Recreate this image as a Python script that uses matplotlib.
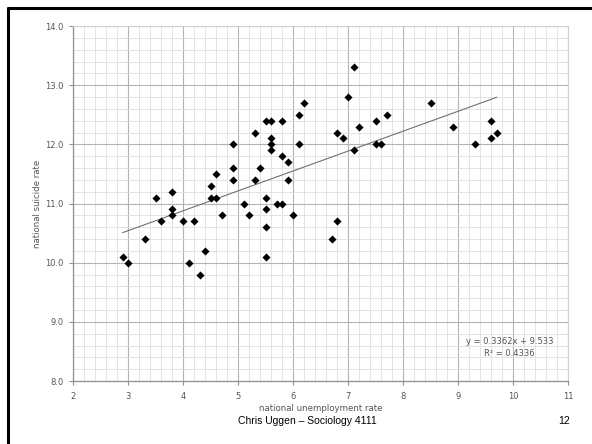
import matplotlib
matplotlib.use("Agg")
import matplotlib.pyplot as plt
from matplotlib.ticker import MultipleLocator
from matplotlib.lines import Line2D

plt.rcParams["font.family"] = ["DejaVu Sans"]

unemployment = [2.9, 3.0, 3.3, 3.5, 3.6, 3.8, 3.8, 3.8, 4.0, 4.1, 4.2, 4.3, 4.4,
                4.5, 4.5, 4.6, 4.6, 4.7, 4.9, 4.9, 4.9, 5.1, 5.2, 5.3, 5.3, 5.4,
                5.5, 5.5, 5.5, 5.5, 5.5, 5.6, 5.6, 5.6, 5.6, 5.7, 5.8, 5.8, 5.8,
                5.9, 5.9, 6.0, 6.1, 6.1, 6.2, 6.7, 6.8, 6.8, 6.9, 7.0, 7.1, 7.1,
                7.2, 7.5, 7.5, 7.6, 7.7, 8.5, 8.9, 9.3, 9.6, 9.6, 9.7]
suicide = [10.1, 10.0, 10.4, 11.1, 10.7, 11.2, 10.9, 10.8, 10.7, 10.0, 10.7, 9.8, 10.2,
           11.3, 11.1, 11.1, 11.5, 10.8, 12.0, 11.6, 11.4, 11.0, 10.8, 12.2, 11.4, 11.6,
           12.4, 11.1, 10.9, 10.6, 10.1, 12.4, 12.1, 12.0, 11.9, 11.0, 12.4, 11.8, 11.0,
           11.7, 11.4, 10.8, 12.5, 12.0, 12.7, 10.4, 10.7, 12.2, 12.1, 12.8, 13.3, 11.9,
           12.3, 12.4, 12.0, 12.0, 12.5, 12.7, 12.3, 12.0, 12.4, 12.1, 12.2]
slope = 0.3362
intercept = 9.533
r_squared = 0.4336
x_ticks = [2, 3, 4, 5, 6, 7, 8, 9, 10, 11]
y_ticks = [8.0, 9.0, 10.0, 11.0, 12.0, 13.0, 14.0]

W, H = 592, 444
fig = plt.figure(figsize=(W / 100, H / 100), dpi=100)
fig.patch.set_facecolor("white")

ax = fig.add_axes([73.3 / W, 1 - 381 / H, (568 - 73.3) / W, (381 - 26) / H])
ax.set_xlim(2, 11)
ax.set_ylim(8, 14)
ax.xaxis.set_minor_locator(MultipleLocator(0.2))
ax.yaxis.set_minor_locator(MultipleLocator(0.2))
ax.grid(which="major", color="#b4b4b4", lw=0.8)
ax.grid(which="minor", color="#dedede", lw=0.6)
ax.set_axisbelow(True)
ax.set_xticks(x_ticks)
ax.set_xticklabels([str(t) for t in x_ticks])
ax.set_yticks(y_ticks)
ax.set_yticklabels([f"{t:.1f}" for t in y_ticks])
ax.tick_params(which="major", length=3, color="#909090", labelsize=6,
               labelcolor="#555555", width=0.8, pad=4)
ax.tick_params(axis="x", pad=5)
ax.tick_params(which="minor", length=0)
for side in ["top", "right"]:
    ax.spines[side].set_color("#d0d0d0")
    ax.spines[side].set_linewidth(0.8)
for side in ["left", "bottom"]:
    ax.spines[side].set_color("#909090")
    ax.spines[side].set_linewidth(0.9)

ax.scatter(unemployment, suicide, marker="D", s=17, color="black", zorder=3, linewidths=0)

x0, x1 = min(unemployment), max(unemployment)
ax.plot([x0, x1], [slope * x0 + intercept, slope * x1 + intercept],
        color="#707070", lw=0.8, zorder=2)

ax.text(9.94, 8.66, f"y = {slope}x + {intercept}", fontsize=6, color="#555555",
        ha="center", va="center")
ax.text(9.94, 8.47, f"R² = {r_squared}", fontsize=6, color="#555555",
        ha="center", va="center")

fig.text(320.6 / W, 1 - 408.5 / H, "national unemployment rate", fontsize=6.2,
         color="#555555", ha="center", va="center")
fig.text(37 / W, 1 - 204 / H, "national suicide rate", fontsize=6.2, color="#555555",
         ha="center", va="center", rotation=90)
fig.text(307 / W, 1 - 420.5 / H, "Chris Uggen – Sociology 4111", fontsize=7.5,
         color="black", ha="center", va="center", family="Liberation Sans")
fig.text(570 / W, 1 - 420.5 / H, "12", fontsize=7.5, color="black",
         ha="right", va="center", family="Liberation Sans")

# slide border lines
fig.add_artist(Line2D([7 / W, 1], [1 - 8 / H, 1 - 8 / H], color="black", lw=2.2,
                      solid_capstyle="butt", transform=fig.transFigure))
fig.add_artist(Line2D([8 / W, 8 / W], [1 - 7 / H, 0], color="black", lw=2.2,
                      solid_capstyle="butt", transform=fig.transFigure))

fig.savefig("out.png", dpi=100)
